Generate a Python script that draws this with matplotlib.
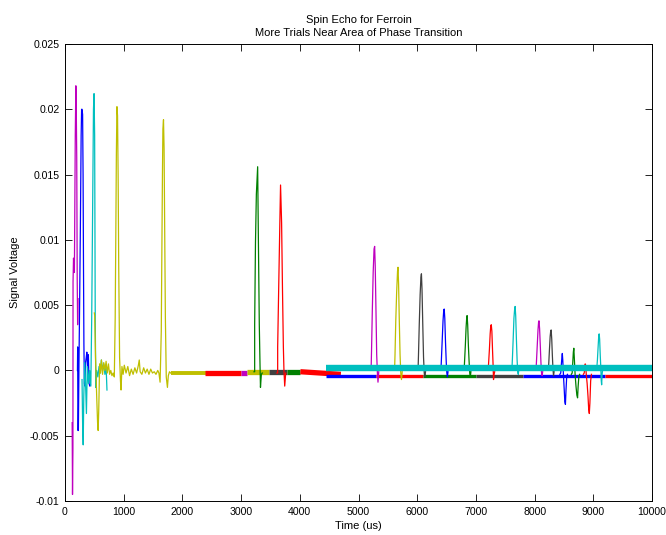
import matplotlib
matplotlib.use("Agg")
import matplotlib.pyplot as plt

# ---------------- colours (MATLAB classic) ----------------
COL = {"b": (0, 0, 1), "g": (0, 0.5, 0), "r": (1, 0, 0), "c": (0, 0.75, 0.75),
       "m": (0.75, 0, 0.75), "y": (0.75, 0.75, 0), "k": (0.25, 0.25, 0.25)}

# ---------------- echo traces (time in us, signal in V) ----------------
echo_colors = ["m", "b", "c", "y", "g", "r", "m", "y", "k", "b", "g", "r",
               "c", "m", "k", "b", "g", "r", "c"]
echo_times = [
    [122, 128, 135, 137, 145, 152, 160, 175, 185, 192, 200, 208, 215, 222],
    [212, 216, 220, 228, 238, 250, 262, 275, 283, 290, 300, 308, 315, 322, 330,
     340, 350, 362, 372, 385, 398, 410, 422, 432],
    [290, 300, 310, 320, 335, 350, 365, 380, 400, 420, 440, 455, 470, 485, 495,
     505, 515, 525, 540, 560, 580, 600, 620, 640, 660, 680, 700, 715],
    [500, 506, 520, 540, 555, 565, 575, 590, 605, 620, 640, 660, 680, 700, 720,
     740, 760, 780, 800, 820, 840, 855, 865, 875, 885, 895, 905, 915, 930, 945,
     955, 970, 990, 1010, 1040, 1070, 1100, 1130, 1160, 1190, 1220, 1250, 1265,
     1280, 1310, 1340, 1370, 1400, 1430, 1460, 1490, 1520, 1550, 1580, 1600,
     1620, 1640, 1650, 1660, 1668, 1678, 1688, 1698, 1710, 1725, 1745, 1760,
     1780, 1800],
    [3220, 3231, 3231, 3245, 3260, 3282, 3295, 3310, 3322, 3330, 3345, 3360],
    [3610, 3623, 3623, 3640, 3660, 3672, 3690, 3705, 3720, 3730, 3743, 3760],
    [5205, 5215, 5222, 5235, 5250, 5265, 5275, 5285, 5298, 5310, 5322, 5332, 5345],
    [5605, 5615, 5622, 5635, 5650, 5665, 5673, 5683, 5695, 5708, 5720, 5732, 5745],
    [6005, 6015, 6022, 6035, 6050, 6063, 6072, 6082, 6095, 6108, 6120, 6130, 6142],
    [6395, 6405, 6412, 6425, 6440, 6452, 6460, 6470, 6482, 6495, 6505, 6515, 6525],
    [6790, 6800, 6807, 6820, 6833, 6843, 6850, 6860, 6872, 6885, 6895, 6905, 6915],
    [7200, 7210, 7217, 7230, 7243, 7253, 7262, 7272, 7283, 7293, 7300, 7310, 7320],
    [7605, 7615, 7622, 7635, 7648, 7660, 7668, 7678, 7690, 7702, 7712, 7722, 7732],
    [8015, 8025, 8032, 8045, 8058, 8068, 8075, 8085, 8097, 8108, 8118, 8128, 8138],
    [8225, 8235, 8242, 8253, 8265, 8274, 8282, 8292, 8302, 8312, 8322, 8332],
    [8430, 8445, 8455, 8465, 8472, 8480, 8492, 8505, 8515, 8525, 8535, 8548, 8560],
    [8625, 8640, 8650, 8660, 8668, 8676, 8690, 8705, 8720, 8732, 8742, 8755, 8768],
    [8830, 8845, 8855, 8862, 8870, 8880, 8895, 8910, 8922, 8932, 8942, 8955, 8968],
    [9050, 9060, 9070, 9082, 9092, 9100, 9108, 9118, 9128, 9136, 9142, 9150, 9162],
]
echo_volts = [
    [-0.0040, -0.0095, -0.0060, 0.0068, 0.0086, 0.0080, 0.0075, 0.0180, 0.0218,
     0.0200, 0.0163, 0.0070, 0.0035, 0.0055],
    [0.0000, 0.0018, -0.0046, -0.0046, 0.0005, 0.0055, 0.0110, 0.0180, 0.0200,
     0.0200, 0.0196, 0.0150, 0.0080, 0.0020, -0.0010, -0.0012, 0.0006, 0.0010,
     0.0014, 0.0002, 0.0012, -0.0010, -0.0012, -0.0011],
    [-0.0007, -0.0040, -0.0057, -0.0020, 0.0006, -0.0010, -0.0033, 0.0003,
     -0.0010, 0.0000, -0.0012, 0.0040, 0.0120, 0.0200, 0.0212, 0.0180, 0.0040,
     -0.0013, 0.0000, -0.0005, 0.0003, -0.0002, 0.0008, 0.0000, 0.0005, -0.0003,
     0.0003, -0.0015],
    [0.0044, 0.0042, 0.0010, -0.0020, -0.0040, -0.0046, -0.0030, 0.0005,
     -0.0002, 0.0008, -0.0003, 0.0006, 0.0000, 0.0007, -0.0002, 0.0005, -0.0003,
     0.0000, -0.0004, -0.0002, -0.0005, 0.0040, 0.0100, 0.0165, 0.0202, 0.0195,
     0.0150, 0.0080, 0.0010, -0.0008, -0.0015, 0.0003, -0.0003, 0.0004, -0.0002,
     0.0003, -0.0004, 0.0001, -0.0003, 0.0002, -0.0002, 0.0004, 0.0008, -0.0001,
     -0.0003, 0.0002, -0.0002, 0.0001, -0.0003, 0.0001, -0.0002, -0.0001, -0.0003,
     0.0000, -0.0002, -0.0009, 0.0030, 0.0090, 0.0150, 0.0185, 0.0192, 0.0170,
     0.0110, 0.0040, -0.0005, -0.0013, -0.0004, -0.0001, -0.0002],
    [-0.0001, -0.0001, 0.0035, 0.0098, 0.0135, 0.0156, 0.0098, 0.0035, 0.0005,
     -0.0013, -0.0003, -0.0002],
    [-0.0002, -0.0002, 0.0018, 0.0062, 0.0113, 0.0142, 0.0113, 0.0062, 0.0018,
     0.0000, -0.0012, -0.0002],
    [0.0001, 0.0001, 0.0015, 0.0045, 0.0075, 0.0093, 0.0095, 0.0080, 0.0045,
     0.0012, -0.0002, -0.0009, -0.0001],
    [0.0001, 0.0001, 0.0012, 0.0038, 0.0060, 0.0076, 0.0079, 0.0066, 0.0038,
     0.0012, -0.0002, -0.0007, -0.0001],
    [0.0001, 0.0001, 0.0012, 0.0035, 0.0058, 0.0071, 0.0074, 0.0062, 0.0035,
     0.0010, -0.0002, -0.0005, -0.0001],
    [0.0001, 0.0001, 0.0008, 0.0022, 0.0038, 0.0046, 0.0047, 0.0040, 0.0022,
     0.0006, -0.0002, -0.0005, -0.0001],
    [0.0001, 0.0001, 0.0007, 0.0019, 0.0033, 0.0040, 0.0042, 0.0035, 0.0019,
     0.0006, -0.0002, -0.0005, -0.0001],
    [0.0001, 0.0001, 0.0006, 0.0016, 0.0028, 0.0034, 0.0035, 0.0030, 0.0016,
     0.0004, -0.0007, -0.0003, -0.0001],
    [0.0002, 0.0002, 0.0009, 0.0024, 0.0040, 0.0047, 0.0049, 0.0042, 0.0024,
     0.0008, -0.0001, -0.0003, 0.0001],
    [0.0001, 0.0001, 0.0007, 0.0019, 0.0031, 0.0037, 0.0038, 0.0032, 0.0019,
     0.0006, -0.0002, -0.0004, -0.0001],
    [0.0001, 0.0001, 0.0006, 0.0016, 0.0026, 0.0030, 0.0031, 0.0024, 0.0012,
     0.0002, -0.0004, -0.0001],
    [-0.0003, -0.0002, 0.0004, 0.0010, 0.0013, 0.0008, -0.0004, -0.0015, -0.0024,
     -0.0026, -0.0015, -0.0004, -0.0003],
    [-0.0003, -0.0002, 0.0006, 0.0014, 0.0017, 0.0010, -0.0003, -0.0012, -0.0019,
     -0.0021, -0.0012, -0.0004, -0.0003],
    [-0.0003, -0.0002, 0.0002, 0.0005, 0.0004, -0.0003, -0.0010, -0.0020,
     -0.0030, -0.0033, -0.0025, -0.0008, -0.0003],
    [0.0002, 0.0002, 0.0008, 0.0018, 0.0026, 0.0028, 0.0024, 0.0012, 0.0002,
     -0.0008, -0.0011, -0.0003, 0.0002],
]

# ---------------- noisy baseline bands ----------------
band_colors = ["y", "r", "m", "y", "k", "g", "r", "b", "r", "g", "k", "b", "r"]
band_start = [1800, 2380, 3000, 3100, 3480, 3780, 4010, 4450, 5300, 6100, 7000, 7800, 9200]
band_end = [2520, 3000, 3100, 3480, 3780, 4010, 4700, 5300, 6100, 7000, 7800, 9200, 10000]
band_level_start = [-0.0002, -0.0002, -0.0002, -0.0001, -0.0001, -0.0001, -0.0001,
                    -0.00045, -0.00045, -0.00045, -0.00045, -0.00045, -0.00045]
band_level_end = [-0.0002, -0.0002, -0.0002, -0.0001, -0.0001, -0.0001, -0.0003,
                  -0.00045, -0.00045, -0.00045, -0.00045, -0.00045, -0.00045]
band_widths = [2.8, 3.8, 3.8, 3.8, 3.8, 3.8, 3.8, 2.4, 2.4, 2.4, 2.4, 2.4, 2.4]

cyan_band_t = [4450, 10000]
cyan_band_v = [0.00022, 0.00022]

x_ticks = [0, 1000, 2000, 3000, 4000, 5000, 6000, 7000, 8000, 9000, 10000]
y_ticks = [-0.01, -0.005, 0, 0.005, 0.01, 0.015, 0.02, 0.025]
y_tick_labels = ["-0.01", "-0.005", "0", "0.005", "0.01", "0.015", "0.02", "0.025"]

plt.rcParams["font.family"] = ["Liberation Sans", "DejaVu Sans"]
plt.rcParams["font.size"] = 7.8

fig = plt.figure(figsize=(6.66, 5.35), dpi=100, facecolor="white")
ax = fig.add_axes([65 / 666, 1 - 501 / 535, (652 - 65) / 666, (501 - 44) / 535])

for c, s, e, l0, l1, w in zip(band_colors, band_start, band_end,
                              band_level_start, band_level_end, band_widths):
    ax.plot([s, e], [l0, l1], color=COL[c], lw=w, solid_capstyle="butt")

for c, t, v in zip(echo_colors, echo_times, echo_volts):
    ax.plot(t, v, color=COL[c], lw=0.9)

ax.plot(cyan_band_t, cyan_band_v, color=COL["c"], lw=4.6, solid_capstyle="butt")

ax.set_xlim(0, 10000)
ax.set_ylim(-0.01, 0.025)
ax.set_xticks(x_ticks)
ax.set_xticklabels([str(x) for x in x_ticks])
ax.set_yticks(y_ticks)
ax.set_yticklabels(y_tick_labels)
ax.tick_params(direction="in", top=True, right=True, length=5, width=0.6, pad=4,
               labelsize=7.6)
for sp in ax.spines.values():
    sp.set_linewidth(0.7)

ax.set_xlabel("Time (us)", labelpad=3, fontsize=8)
ax.set_ylabel("Signal Voltage", labelpad=7, fontsize=8)
ax.set_title("Spin Echo for Ferroin\nMore Trials Near Area of Phase Transition",
             linespacing=1.35, pad=6, fontsize=8)

fig.savefig("out.png", dpi=100, facecolor="white")
